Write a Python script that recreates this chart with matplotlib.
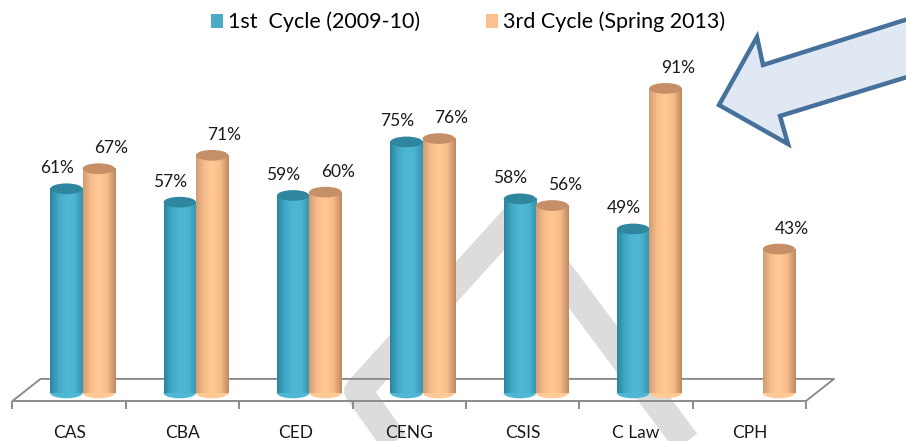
import numpy as np
import matplotlib
matplotlib.use("Agg")
import matplotlib.pyplot as plt
from matplotlib.colors import LinearSegmentedColormap
from matplotlib.patches import Ellipse, Polygon, Rectangle
from matplotlib.lines import Line2D

# data
categories = ["CAS", "CBA", "CED", "CENG", "CSIS", "C Law", "CPH"]
cycle1 = [61, 57, 59, 75, 58, 49, np.nan]
cycle3 = [67, 71, 60, 76, 56, 91, 43]
series_names = ["1st  Cycle (2009-10)", "3rd Cycle (Spring 2013)"]

W, H = 906, 441
plt.rcParams['font.family'] = ['Lato', 'DejaVu Sans']

fig = plt.figure(figsize=(W / 100, H / 100), dpi=100)
fig.patch.set_facecolor("white")


def fx(x):
    return x / W


def fy(y):
    return 1 - y / H


# grey watermark behind the chart
wm = Line2D([fx(400), fx(358), fx(517), fx(692)], [fy(450), fy(391), fy(215), fy(450)],
            transform=fig.transFigure, color="#dcdcdc", lw=20,
            solid_joinstyle="round", solid_capstyle="butt", zorder=-1)
fig.add_artist(wm)

ax = fig.add_axes([fx(12.5), fy(401), (806 - 12.5) / W, 401 / H])
ax.patch.set_visible(False)
ymin, ymax = -2.4, 117.4
depth = 0.247
floor_back = 4.2

# floor outline (pseudo 3d)
fl = dict(color="#8c8c8c", lw=1.4, zorder=1, solid_capstyle="butt", clip_on=False)
ax.plot([-0.5, -0.5 + depth, 6.5 + depth, 6.5], [ymin, floor_back, floor_back, ymin], **fl)
ax.plot([-0.5, 6.5], [ymin, ymin], **fl)

teal_cmap = LinearSegmentedColormap.from_list(
    "teal", ["#2a85a0", "#43aac6", "#4eb8d4", "#4cb4cf", "#3592ad"])
orange_cmap = LinearSegmentedColormap.from_list(
    "orng", ["#d49c74", "#f8bd8c", "#ffc995", "#f6bb88", "#bf8961"])
grad = np.linspace(0, 1, 64).reshape(1, -1)

bw = 0.285
shift = 0.118
ell_h = 3.2
series = [
    (cycle1, -bw / 2, teal_cmap, "#2f879f", -7),
    (cycle3, bw / 2, orange_cmap, "#c58f67", 9),
]
x = np.arange(len(categories))
for vals, off, cmap, top_c, lab_dx in series:
    for i, v in enumerate(vals):
        if np.isnan(v):
            continue
        xc = x[i] + shift + off
        x0, x1 = xc - bw / 2, xc + bw / 2
        ax.add_patch(Ellipse((xc, 0), bw, ell_h, facecolor=cmap(0.5), edgecolor="none", zorder=3))
        ax.imshow(grad, cmap=cmap, extent=[x0, x1, 0, v], aspect="auto", zorder=3,
                  interpolation="bilinear")
        ax.add_patch(Ellipse((xc, v), bw, ell_h, facecolor=top_c, edgecolor="none", zorder=4))
        ax.annotate(f"{v:.0f}%", (xc, v), xytext=(lab_dx, 9), textcoords="offset points",
                    ha="center", va="bottom", fontsize=12.5, color="#1a1a1a")

ax.set_xlim(-0.5, 6.5)
ax.set_ylim(ymin, ymax)
for s in ax.spines.values():
    s.set_visible(False)
ax.set_yticks([])
ax.set_xticks(x)
ax.set_xticklabels(categories, fontsize=12.5, color="#1a1a1a")
ax.tick_params(axis="x", which="major", length=0, pad=17)
ax.set_xticks(np.arange(-0.5, 7, 1), minor=True)
ax.tick_params(axis="x", which="minor", length=6, width=1.4, color="#8c8c8c", direction="out")

# legend
handles = [Rectangle((0, 0), 1, 1, facecolor="#4bacc6"), Rectangle((0, 0), 1, 1, facecolor="#fac090")]
fig.legend(handles, series_names, loc="center", bbox_to_anchor=(fx(468), fy(22)), ncol=2,
           frameon=False, fontsize=15.5, handlelength=0.55, handleheight=0.6,
           handletextpad=0.2, columnspacing=3.1)

# callout arrow
arrow_pts = [(719, 105), (757, 37), (763, 65), (930, 12), (930, 70), (780, 116), (788, 144)]
arrow = Polygon([(fx(a), fy(b)) for a, b in arrow_pts], closed=True, transform=fig.transFigure,
                facecolor="#dfe8f3", edgecolor="#46719b", lw=3.2, joinstyle="miter", zorder=5)
fig.add_artist(arrow)

fig.savefig("out.png", dpi=100)
